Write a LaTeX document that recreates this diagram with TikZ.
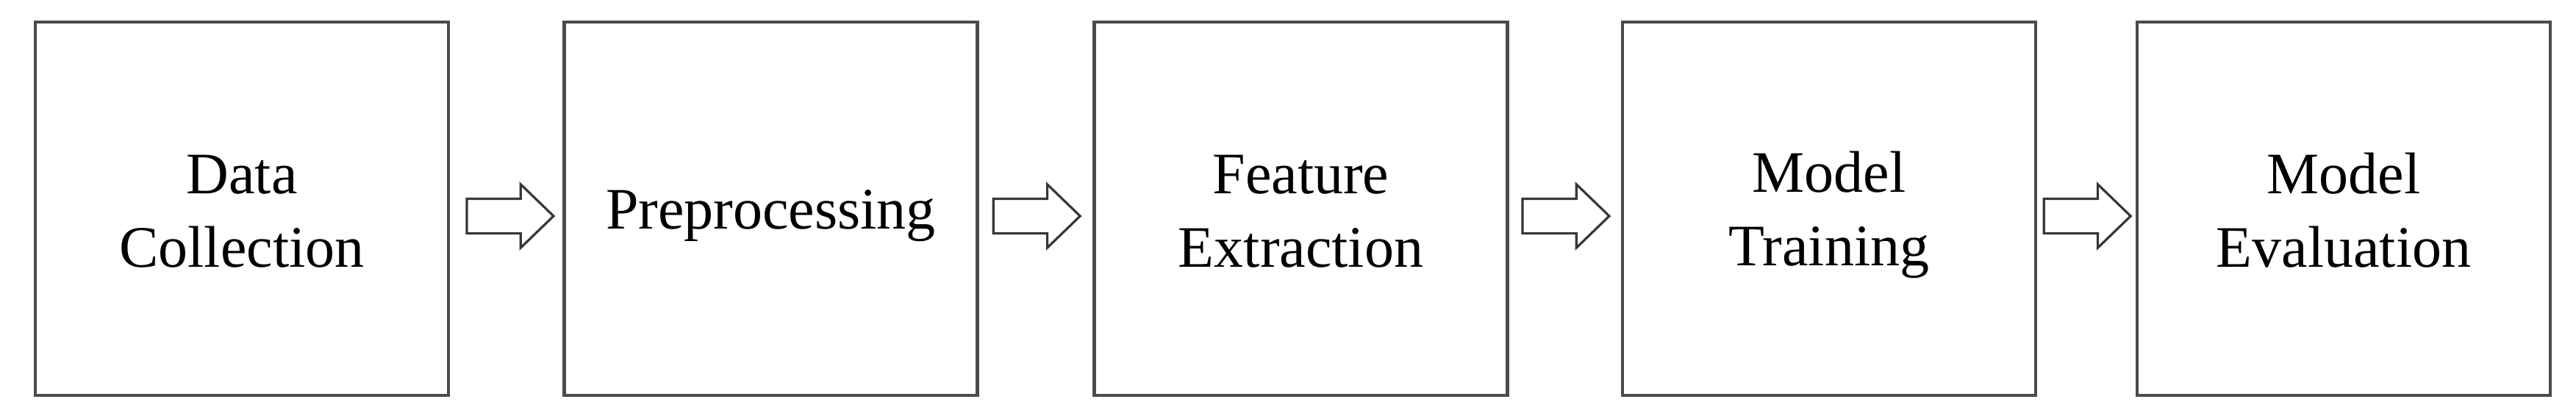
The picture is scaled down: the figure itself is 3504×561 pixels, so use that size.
\documentclass[tikz,border=0pt]{standalone}
\usepackage{fontspec}
\setmainfont{Liberation Serif}
\usetikzlibrary{shapes.arrows,calc}
\definecolor{boxline}{RGB}{75,75,75}
\definecolor{arrline}{RGB}{55,55,55}
\newcommand{\lnstrut}{\rule[-3.5pt]{0pt}{21.5pt}}
\begin{document}
\begin{tikzpicture}[x=0.25pt,y=-0.25pt,
  stage/.style={draw=boxline,line width=1.1pt,minimum width=140.5pt,minimum height=127pt,
    inner sep=0pt,align=center,font=\fontsize{20pt}{25pt}\selectfont},
  blockarrow/.style={single arrow,draw=arrline,line width=0.8pt,fill=white,
    minimum height=29.5pt,minimum width=20.75pt,single arrow head extend=4.9pt,
    inner xsep=0pt,inner ysep=5.5pt,single arrow tip angle=88,anchor=center}]
\useasboundingbox (0,0) rectangle (3504,561);
\node[stage] (b1) at (329,284)    {\lnstrut Data\\\lnstrut Collection};
\node[stage] (b2) at (1048.5,284) {\lnstrut Preprocessing};
\node[stage] (b3) at (1769.5,284) {\lnstrut Feature\\\lnstrut Extraction};
\node[stage] (b4) at (2488,284)   {\lnstrut Model\\\lnstrut Training};
\node[stage] (b5) at (3188,284)   {\lnstrut Model\\\lnstrut Evaluation};
\node[blockarrow] (a1) at ($(b1.east)!0.5!(b2.west)+(-7,10)$) {};
\node[blockarrow] (a2) at ($(b2.east)!0.5!(b3.west)+(-11,10)$) {};
\node[blockarrow] (a3) at ($(b3.east)!0.5!(b4.west)+(-11,10)$) {};
\node[blockarrow] (a4) at ($(b4.east)!0.5!(b5.west)+(-11,10)$) {};
\end{tikzpicture}
\end{document}
